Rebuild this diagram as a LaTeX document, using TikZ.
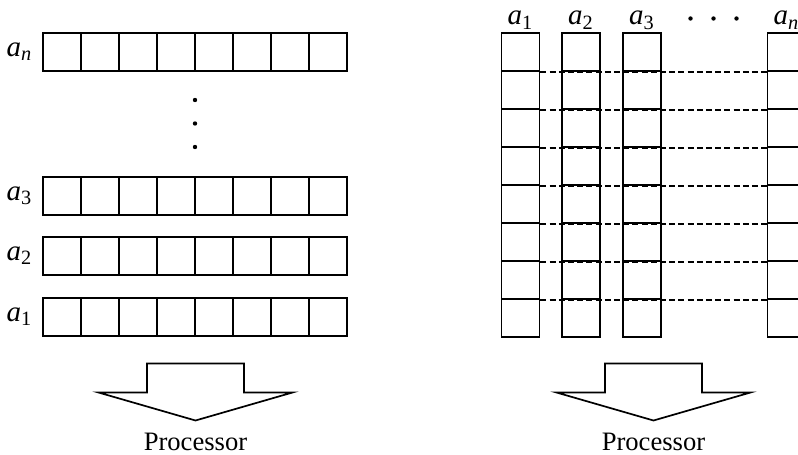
\documentclass[tikz,border=0pt]{standalone}
\usepackage{fontspec}
\setmainfont{Liberation Serif}
\usetikzlibrary{positioning,calc}

\begin{document}
\begin{tikzpicture}
	[x=0.5pt,y=-0.5pt,line width=0.85pt,
	cell/.style={draw,minimum size=19pt,inner sep=0pt},
	tag/.style={inner sep=0pt,font=\fontsize{14.5}{16}\selectfont},
	word/.style={inner sep=0pt,font=\fontsize{13.3}{15}\selectfont},
	gap/.style={dash pattern=on 3pt off 1.6pt}]
	\useasboundingbox (0,0) rectangle (798,455);
	\clip (0,0) rectangle (798,455);
	
	% registers stored row by row
	\foreach \r/\y/\s in {n/52/\itshape n, 3/196/3, 2/256/2, 1/317/1}
	{
		\foreach \i in {1,...,8}
			\node[cell] (r\r-\i) at (24+38*\i,\y) {};
		\node[tag,left=4.5pt of r\r-1] (ra\r) {\textit{a}\textsubscript{\s}};
	}
	\foreach \y in {100,123.5,147}
		\fill (195,\y) circle (1.1pt);
	
	% registers stored column by column
	\foreach \c/\x/\s in {1/520.5/1, 2/581/2, 3/642/3, n/786.5/\itshape n}
	{
		\foreach \k in {1,...,8}
			\node[cell] (c\c-\k) at (\x,14+38*\k) {};
		\node[tag,anchor=base] (ca\c) at (\x,25) {\textit{a}\textsubscript{\s}};
	}
	\foreach \x in {690.5,713.5,736.5}
		\fill (\x,18.5) circle (1.1pt);
	\path
	\foreach \k in {1,...,7}
	{
		(c1-\k.south east) edge[gap] (cn-\k.south west)
	};
	
	% arrows down to the processor
	\foreach \t/\x in {l/195.5, r/653.5}
	{
		\coordinate (\t tip) at (\x,420.5);
		\draw (\t tip) -- ++(-97,-28) -- ++(48.5,0) -- ++(0,-29) -- ++(97,0)
			-- ++(0,29) -- ++(48.5,0) -- cycle;
		\node[word,anchor=base] (\t proc) at (\x,450) {Processor};
	}
\end{tikzpicture}
\end{document}
